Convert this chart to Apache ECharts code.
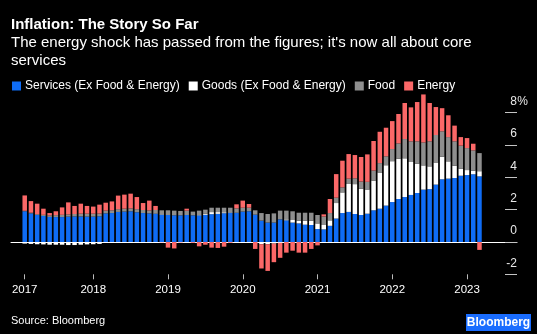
<!DOCTYPE html>
<html><head><meta charset="utf-8">
<script src="https://cdn.jsdelivr.net/npm/echarts@6/dist/echarts.min.js"></script>
<style>html,body{margin:0;padding:0;background:#000;}#c{width:537px;height:334px;}</style>
</head><body><div id="c"></div>
<script>
const months = [
'2017-02','2017-03','2017-04','2017-05','2017-06','2017-07','2017-08','2017-09','2017-10','2017-11','2017-12',
'2018-01','2018-02','2018-03','2018-04','2018-05','2018-06','2018-07','2018-08','2018-09','2018-10','2018-11','2018-12',
'2019-01','2019-02','2019-03','2019-04','2019-05','2019-06','2019-07','2019-08','2019-09','2019-10','2019-11','2019-12',
'2020-01','2020-02','2020-03','2020-04','2020-05','2020-06','2020-07','2020-08','2020-09','2020-10','2020-11','2020-12',
'2021-01','2021-02','2021-03','2021-04','2021-05','2021-06','2021-07','2021-08','2021-09','2021-10','2021-11','2021-12',
'2022-01','2022-02','2022-03','2022-04','2022-05','2022-06','2022-07','2022-08','2022-09','2022-10','2022-11','2022-12',
'2023-01','2023-02','2023-03'];

const services = [
1.90,1.77,1.67,1.61,1.55,1.54,1.54,1.57,1.58,1.58,1.57,
1.57,1.59,1.77,1.79,1.86,1.88,1.90,1.84,1.79,1.77,1.75,1.69,
1.67,1.65,1.65,1.67,1.65,1.65,1.68,1.72,1.74,1.78,1.81,1.81,
1.88,1.90,1.69,1.32,1.20,1.20,1.40,1.34,1.20,1.15,1.07,1.05,
0.80,0.78,1.00,1.45,1.79,1.86,1.73,1.67,1.75,1.96,2.06,2.25,
2.47,2.66,2.78,2.91,3.03,3.24,3.27,3.55,3.88,3.92,3.96,4.10,
4.14,4.19,4.06];

const goods = [
-0.10,-0.12,-0.14,-0.15,-0.17,-0.17,-0.17,-0.19,-0.19,-0.17,-0.15,
-0.14,-0.12,-0.06,-0.05,-0.05,-0.03,-0.04,-0.03,-0.02,0,0.02,0.03,
0,0,0,0,0,0.02,0.06,0.13,0.11,0.06,0.03,0.02,
0,0,0,-0.14,-0.14,-0.10,-0.05,0.06,0.16,0.17,0.25,0.27,
0.35,0.27,0.34,0.96,1.28,1.73,1.85,1.62,1.50,1.84,2.24,2.50,
2.53,2.49,2.40,2.04,1.82,1.50,1.41,1.37,1.40,1.07,0.76,0.44,
0.31,0.22,0.32];

const food = [
0.03,0.04,0.05,0.07,0.10,0.12,0.14,0.14,0.15,0.17,0.18,
0.18,0.17,0.17,0.17,0.17,0.18,0.18,0.19,0.19,0.18,0.21,0.24,
0.29,0.29,0.27,0.27,0.23,0.27,0.26,0.27,0.27,0.28,0.28,0.25,
0.24,0.22,0.27,0.47,0.53,0.57,0.54,0.54,0.54,0.49,0.49,0.49,
0.52,0.53,0.45,0.33,0.31,0.33,0.36,0.45,0.47,0.62,0.58,0.55,
0.75,0.95,1.19,1.28,1.38,1.42,1.55,1.70,1.57,1.50,1.51,1.42,
1.36,1.26,1.12];

const energy = [
0.95,0.72,0.65,0.38,0.14,0.24,0.46,0.74,0.50,0.62,0.48,
0.44,0.55,0.49,0.55,0.84,0.87,0.91,0.75,0.43,0.61,0.25,-0.02,
-0.35,-0.40,-0.03,0.12,-0.05,-0.27,-0.17,-0.35,-0.37,-0.29,-0.05,0.25,
0.44,0.23,-0.43,-1.50,-1.65,-1.15,-0.93,-0.66,-0.54,-0.66,-0.66,-0.43,
-0.21,0.13,0.87,1.46,1.65,1.52,1.44,1.52,1.70,1.83,1.94,1.77,
1.73,1.82,2.23,2.10,2.43,2.97,2.37,1.73,1.43,1.35,0.97,0.53,
0.62,0.41,-0.49];

const seriesNames = ['Services (Ex Food & Energy)', 'Goods (Ex Food & Energy)', 'Food', 'Energy'];
const seriesColors = ['#0f6cf5', '#ffffff', '#8e8e8e', '#fb6868'];
const yMin = -2, yMax = 8, yStep = 2;

const FONT = '"Liberation Sans", Arial, Helvetica, sans-serif';
const chart = echarts.init(document.getElementById('c'));
const showIdx = (i) => i === 0 || months[i].slice(5) === '01';

const mkBar = (k, data) => ({
  name: seriesNames[k], type: 'bar', stack: 'cpi', xAxisIndex: 0, yAxisIndex: 0,
  data: data, barWidth: 4.5, clip: false,
  itemStyle: { color: seriesColors[k] }
});

chart.setOption({
  backgroundColor: '#000',
  animation: false,
  textStyle: { fontFamily: FONT },
  title: [
    { text: 'Inflation: The Story So Far', left: 11, top: 17, padding: 0,
      textStyle: { color: '#fff', fontSize: 15, fontWeight: 'bold', fontFamily: FONT } },
    { text: "The energy shock has passed from the figures; it's now all about core\nservices", left: 11, top: 33.7, padding: 0,
      textStyle: { color: '#fff', fontSize: 15, fontWeight: 'normal', lineHeight: 18.2, fontFamily: FONT } },
    { text: 'Source: Bloomberg', left: 11, top: 315, padding: 0,
      textStyle: { color: '#fff', fontSize: 11, fontWeight: 'normal', fontFamily: FONT } }
  ],
  legend: {
    left: 12, top: 80, padding: 0, itemWidth: 9, itemHeight: 9, itemGap: 9, icon: 'rect',
    data: seriesNames,
    textStyle: { color: '#fff', fontSize: 12, fontFamily: FONT, padding: [0, 0, 0, -1] }
  },
  grid: [
    { left: 21.6, right: 54.4, top: 112.7, bottom: 59.7 },
    { left: 11, right: 20, top: 112.7, bottom: 59.7 }
  ],
  xAxis: [
    { type: 'category', gridIndex: 0, data: months,
      axisLine: { show: false, onZero: false },
      axisTick: { show: true, alignWithLabel: true, interval: (i) => showIdx(i), length: 5, lineStyle: { color: '#bbb' } },
      axisLabel: { interval: (i) => showIdx(i), formatter: (v) => v.slice(0, 4), color: '#fff', fontSize: 11.5, margin: 10, fontFamily: FONT },
      splitLine: { show: false } },
    { type: 'value', gridIndex: 1, min: 0, max: 1,
      axisLine: { show: true, onZero: true, lineStyle: { color: '#fff', width: 1 } },
      axisTick: { show: false }, axisLabel: { show: false }, splitLine: { show: false } }
  ],
  yAxis: [
    { type: 'value', gridIndex: 0, min: yMin, max: yMax, interval: yStep, show: false },
    { type: 'value', gridIndex: 1, min: yMin, max: yMax, interval: yStep, position: 'right',
      axisLine: { show: true, onZero: false, lineStyle: { color: 'rgba(0,0,0,0)' } },
      axisTick: { show: true, inside: true, length: 12, lineStyle: { color: '#c4c4c4', width: 1 } },
      splitLine: { show: false },
      axisLabel: { inside: true, margin: -11, verticalAlign: 'bottom',
        formatter: (v) => '{n|' + v + '}{p|' + (v === yMax ? '%' : '') + '}',
        rich: {
          n: { color: '#e8e8e8', fontSize: 12, lineHeight: 22, fontFamily: FONT },
          p: { color: '#e8e8e8', fontSize: 12, lineHeight: 22, width: 11, align: 'left', fontFamily: FONT }
        } } }
  ],
  graphic: [{
    type: 'group', left: 466, top: 314,
    children: [
      { type: 'rect', shape: { x: 0, y: 0, width: 65, height: 17 }, style: { fill: '#1a6dff' } },
      { type: 'text', style: { text: 'Bloomberg', x: 32.5, y: 9, fill: '#fff', fontSize: 12, fontWeight: 'bold', fontFamily: FONT, align: 'center', verticalAlign: 'middle' } }
    ]
  }],
  series: [mkBar(0, services), mkBar(1, goods), mkBar(2, food), mkBar(3, energy)]
});
</script></body></html>
